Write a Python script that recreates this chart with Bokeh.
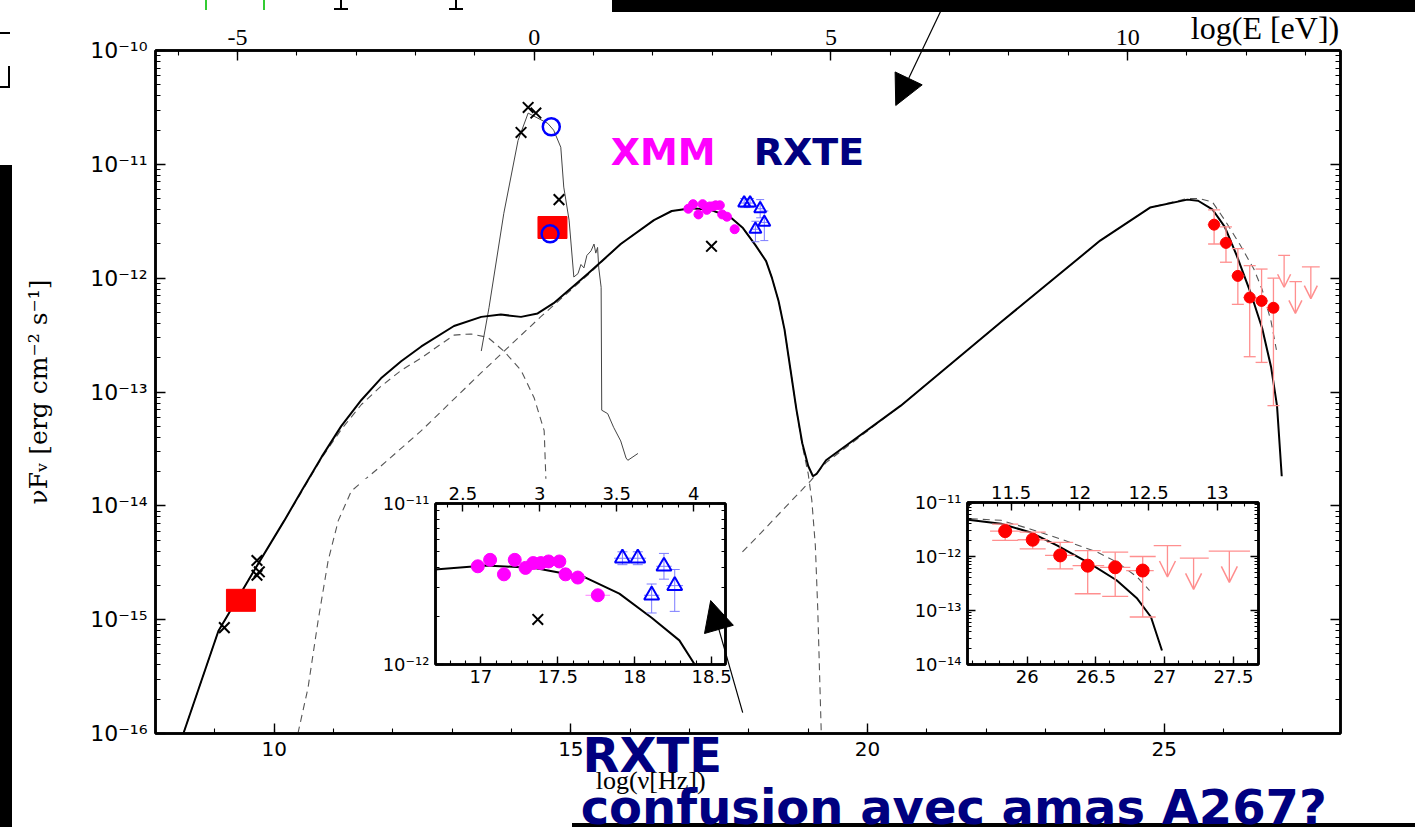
import math
from bokeh.plotting import figure
from bokeh.models import (Range1d, LinearAxis, LogAxis, FixedTicker, CustomJSTickFormatter,
                          Label, Arrow, NormalHead, OpenHead, ColumnDataSource, Div)
from bokeh.embed import file_html
from bokeh.resources import INLINE

# ---------------- data: log10 nu [Hz], log10 nuFnu [erg cm-2 s-1] ----------------
model_lognu = [8.47, 9.06, 9.66, 10.17, 10.46, 10.80, 11.13, 11.47, 11.80, 12.14, 12.48, 13.03, 13.49, 13.82, 14.16,
               14.44, 14.71, 15.29, 15.84, 16.40, 16.70, 17.03, 17.35, 17.68, 17.90, 18.11, 18.29, 18.39, 18.50,
               18.60, 18.70, 18.80, 18.90, 19.00, 19.08, 19.14, 19.30, 20.56, 22.24, 23.92, 24.76, 25.39, 25.57,
               25.81, 26.02, 26.22, 26.46, 26.65, 26.80, 26.90, 26.98]
model_logf = [-16.00, -15.10, -14.57, -14.13, -13.87, -13.57, -13.30, -13.07, -12.88, -12.73, -12.60, -12.42, -12.34,
              -12.32, -12.34, -12.31, -12.22, -11.96, -11.70, -11.49, -11.41, -11.385, -11.40, -11.46, -11.56, -11.71,
              -11.85, -12.00, -12.20, -12.45, -12.80, -13.15, -13.45, -13.65, -13.74, -13.72, -13.60, -13.12, -12.39,
              -11.67, -11.38, -11.31, -11.32, -11.395, -11.55, -11.80, -12.135, -12.44, -12.78, -13.12, -13.74]

sync1_lognu = [8.47, 9.06, 9.66, 10.17, 10.46, 10.80, 11.13, 11.47, 11.80, 12.14, 12.48, 13.03, 13.32, 13.60, 13.87,
               14.16, 14.38, 14.55, 14.58]
sync1_logf = [-16.00, -15.10, -14.57, -14.13, -13.88, -13.58, -13.33, -13.11, -12.95, -12.81, -12.70, -12.50, -12.49,
              -12.52, -12.64, -12.81, -13.05, -13.34, -13.78]

sync2_lognu = [10.40, 10.57, 10.74, 10.91, 11.08, 11.30, 11.80, 12.48, 13.49, 14.49, 15.29, 15.84, 16.40, 16.70, 17.03,
               17.35, 17.68, 17.90, 18.11, 18.29, 18.39, 18.50, 18.60, 18.70, 18.80, 18.90, 19.00, 19.06, 19.12, 19.16,
               19.19, 19.22]
sync2_logf = [-16.0, -15.60, -15.01, -14.48, -14.13, -13.87, -13.65, -13.34, -12.83, -12.34, -11.97, -11.70, -11.49, -11.41,
              -11.385, -11.40, -11.46, -11.56, -11.71, -11.85, -12.00, -12.20, -12.45, -12.80, -13.15, -13.47, -13.72,
              -13.95, -14.35, -14.90, -15.45, -16.0]

ssc_lognu = [17.75, 18.20, 18.60, 19.04, 19.30, 20.56, 22.24, 23.92, 24.76, 25.39, 25.59, 25.81, 26.02, 26.27, 26.51,
             26.65, 26.80, 26.89]
ssc_logf = [-14.48, -14.24, -14.02, -13.78, -13.62, -13.12, -12.39, -11.67, -11.38, -11.30, -11.30, -11.33, -11.49,
            -11.70, -11.92, -12.10, -12.38, -12.63]

spec_lognu = [13.49, 13.62, 13.87, 14.11, 14.28, 14.61, 14.71, 14.83, 14.88, 14.97, 15.05, 15.12, 15.17, 15.22, 15.27,
              15.34, 15.39, 15.42, 15.45, 15.47, 15.51, 15.52, 15.62, 15.72, 15.84, 15.93, 15.96, 16.13]
spec_logf = [-12.64, -12.26, -11.43, -10.79, -10.55, -10.64, -10.70, -10.85, -11.20, -11.49, -11.99, -11.96, -11.88,
             -11.91, -11.80, -11.76, -11.70, -11.78, -11.73, -11.91, -12.08, -13.16, -13.19, -13.31, -13.43, -13.58,
             -13.60, -13.54]

cross_lognu = [9.16, 9.71, 9.71, 9.75, 14.16, 14.28, 14.41, 14.80, 17.37]
cross_logf = [-15.07, -14.48, -14.61, -14.58, -10.72, -10.50, -10.55, -11.31, -11.72]

bluecirc_lognu = [14.67, 14.65]
bluecirc_logf = [-10.67, -11.61]

redsq_lognu = [9.44, 14.69]
redsq_logf = [-14.83, -11.555]

xmm_lognu = [16.98, 17.06, 17.15, 17.22, 17.29, 17.34, 17.39, 17.44, 17.51, 17.55, 17.63, 17.76]
xmm_logf = [-11.39, -11.35, -11.44, -11.35, -11.40, -11.37, -11.37, -11.36, -11.36, -11.44, -11.46, -11.57]
xmm_xerr = [0.04, 0.04, 0.04, 0.04, 0.04, 0.04, 0.04, 0.04, 0.04, 0.04, 0.05, 0.08]
xmm_yerr = [0.02, 0.02, 0.02, 0.02, 0.02, 0.02, 0.02, 0.02, 0.02, 0.02, 0.02, 0.03]

rxte_lognu = [17.92, 18.02, 18.19, 18.11, 18.26]
rxte_logf = [-11.34, -11.34, -11.39, -11.57, -11.51]
rxte_xerr = [0.054, 0.054, 0.05, 0.05, 0.054]
rxte_yerr_up = [0.04, 0.04, 0.08, 0.07, 0.10]
rxte_yerr_lo = [0.04, 0.04, 0.08, 0.11, 0.16]

gam_lognu = [25.84, 26.04, 26.24, 26.44, 26.64, 26.84]
gam_logf = [-11.53, -11.69, -11.98, -12.17, -12.20, -12.26]
gam_xlo = [25.73, 25.93, 26.13, 26.33, 26.53, 26.72]
gam_xhi = [25.95, 26.15, 26.35, 26.56, 26.75, 26.92]
gam_ylo = [-11.70, -11.86, -12.23, -12.69, -12.74, -13.12]
gam_yhi = [-11.40, -11.55, -11.74, -11.89, -11.92, -12.00]

ul_lognu = [27.02, 27.21, 27.47]
ul_xlo = [26.92, 27.11, 27.32]
ul_xhi = [27.12, 27.32, 27.62]
ul_logf = [-11.80, -12.03, -11.90]

inset2_ssc_lognu = [25.59, 25.81, 26.02, 26.27, 26.51, 26.65, 26.80, 26.89]
inset2_ssc_logf = [-11.30, -11.33, -11.49, -11.70, -11.92, -12.10, -12.38, -12.63]

# axis ticks / labels
main_x_ticks = [10, 15, 20, 25]
main_x_minor = list(range(8, 28))
main_e_ticks = [-5, 0, 5, 10]
main_e_minor = list(range(-6, 14))
main_y_dec = [-16, -15, -14, -13, -12, -11, -10]
in1_x_ticks = [17, 17.5, 18, 18.5]
in1_e_ticks = [2.5, 3, 3.5, 4]
in1_y_dec = [-12, -11]
in2_x_ticks = [26, 26.5, 27, 27.5]
in2_e_ticks = [11.5, 12, 12.5, 13]
in2_y_dec = [-14, -13, -12, -11]

LOG_H = 14.383  # log10(nu/Hz) - log10(E/eV)

# ---------------- layout (page pixels) ----------------
W, H = 1415, 827
FL, FT, FR, FB = 155, 50, 1340, 733      # main frame edges
XR = (8.0, 27.97)
YD = (-16.0, -10.0)
PPX = (FR - FL) / (XR[1] - XR[0])
PPY = (FB - FT) / (YD[1] - YD[0])


def P(a):
    return [10.0 ** v for v in a]


def minors_lin(lo, hi, step):
    n = int(round((hi - lo) / step))
    return [round(lo + i * step, 3) for i in range(n + 1)]


def log_minor(decs):
    out = []
    for e in decs[:-1]:
        out += [m * 10.0 ** e for m in range(2, 10)]
    return out


SUP = CustomJSTickFormatter(code="""
const s = {"-":"\u207b","0":"\u2070","1":"\u00b9","2":"\u00b2","3":"\u00b3","4":"\u2074","5":"\u2075","6":"\u2076","7":"\u2077","8":"\u2078","9":"\u2079"};
const e = Math.round(Math.log10(tick));
return "10" + String(e).split("").map(c => s[c]).join("");
""")
BLANK = CustomJSTickFormatter(code="return '';")
NUM = CustomJSTickFormatter(code="return (Math.abs(tick - Math.round(tick)) < 1e-6) ? String(Math.round(tick)) : tick.toFixed(1);")


def style_axis(ax, font, size, standoff, maj=10, mnr=5, lw=2.0):
    ax.major_tick_in = maj
    ax.major_tick_out = 0
    ax.minor_tick_in = mnr
    ax.minor_tick_out = 0
    ax.axis_line_width = lw
    ax.axis_line_color = "black"
    ax.major_tick_line_width = 1.4
    ax.minor_tick_line_width = 1.1
    ax.major_tick_line_color = "black"
    ax.minor_tick_line_color = "black"
    ax.major_label_text_font = font
    ax.major_label_text_font_size = f"{size}px"
    ax.major_label_standoff = standoff
    ax.major_label_text_color = "black"


def absolute(left, top):
    return {"position": "absolute", "left": f"{left}px", "top": f"{top}px"}


PINK = "#ff8f8f"
MAG = "#ff00ff"
MAGE = "#ff80ff"
BLUE = "#0000ff"
BLUEE = "#7c7cff"
NAVY = "#000080"

# ---------------- main figure ----------------
p = figure(width=W, height=H, x_range=Range1d(*XR), y_range=Range1d(10 ** YD[0], 10 ** YD[1]),
           y_axis_type="log", output_backend="svg", toolbar_location=None,
           min_border_left=FL, min_border_right=W - FR, min_border_top=FT, min_border_bottom=H - FB,
           styles=absolute(0, 0))
p.grid.visible = False
p.outline_line_color = "black"
p.outline_line_width = 2.5

xb = p.xaxis[0]
xb.ticker = FixedTicker(ticks=main_x_ticks, minor_ticks=main_x_minor)
xb.formatter = NUM
style_axis(xb, "DejaVu Sans", 20, 8, lw=2.5)

yl = p.yaxis[0]
yl.ticker = FixedTicker(ticks=P(main_y_dec), minor_ticks=log_minor(main_y_dec))
yl.formatter = SUP
style_axis(yl, "DejaVu Sans", 22, 8, lw=2.5)
yl.axis_label = "\u03bdF\u1d65 [erg cm\u207b\u00b2 s\u207b\u00b9]"
yl.axis_label_text_font = "DejaVu Serif"
yl.axis_label_text_font_size = "25px"
yl.axis_label_text_font_style = "normal"
yl.axis_label_text_color = "black"
yl.axis_label_standoff = 34

p.extra_x_ranges = {"E": Range1d(XR[0] - LOG_H, XR[1] - LOG_H)}
xt = LinearAxis(x_range_name="E", ticker=FixedTicker(ticks=main_e_ticks, minor_ticks=main_e_minor), formatter=NUM)
style_axis(xt, "Liberation Serif", 24, 6, lw=2.5)
p.add_layout(xt, "above")

yr = LogAxis(ticker=FixedTicker(ticks=P(main_y_dec), minor_ticks=log_minor(main_y_dec)), formatter=BLANK)
style_axis(yr, "DejaVu Sans", 1, 0, lw=2.5)
p.add_layout(yr, "right")

# model curves
DASH = dict(line_color="#555555", line_width=1.1, line_dash="7 5")
p.line(sync1_lognu, P(sync1_logf), **DASH)
p.line(sync2_lognu, P(sync2_logf), **DASH)
p.line(ssc_lognu, P(ssc_logf), **DASH)
p.line(spec_lognu, P(spec_logf), line_color="#444444", line_width=1.0)
p.line(model_lognu, P(model_logf), line_color="black", line_width=2.0)


def draw_data(f, s):
    # XMM
    f.segment([a - e for a, e in zip(xmm_lognu, xmm_xerr)], P(xmm_logf),
              [a + e for a, e in zip(xmm_lognu, xmm_xerr)], P(xmm_logf), line_color=MAGE, line_width=1)
    f.segment(xmm_lognu, P([a - e for a, e in zip(xmm_logf, xmm_yerr)]),
              xmm_lognu, P([a + e for a, e in zip(xmm_logf, xmm_yerr)]), line_color=MAGE, line_width=1)
    f.scatter(xmm_lognu, P(xmm_logf), marker="circle", size=s["xmm"], fill_color=MAG, line_color=MAG)
    # RXTE
    f.segment([a - e for a, e in zip(rxte_lognu, rxte_xerr)], P(rxte_logf),
              [a + e for a, e in zip(rxte_lognu, rxte_xerr)], P(rxte_logf), line_color=BLUEE, line_width=1)
    f.segment(rxte_lognu, P([a - e for a, e in zip(rxte_logf, rxte_yerr_lo)]),
              rxte_lognu, P([a + e for a, e in zip(rxte_logf, rxte_yerr_up)]), line_color=BLUEE, line_width=1)
    f.scatter(rxte_lognu, P([a - e for a, e in zip(rxte_logf, rxte_yerr_lo)]), marker="dash", size=s["cap"], line_color=BLUEE)
    f.scatter(rxte_lognu, P([a + e for a, e in zip(rxte_logf, rxte_yerr_up)]), marker="dash", size=s["cap"], line_color=BLUEE)
    f.scatter(rxte_lognu, P(rxte_logf), marker="triangle", size=s["tri"], fill_color=None, line_color=BLUE, line_width=2)
    # gamma
    f.segment(gam_xlo, P(gam_logf), gam_xhi, P(gam_logf), line_color=PINK, line_width=1.3)
    f.segment(gam_lognu, P(gam_ylo), gam_lognu, P(gam_yhi), line_color=PINK, line_width=1.3)
    f.scatter(gam_lognu, P(gam_ylo), marker="dash", size=s["gcap"], line_color=PINK, line_width=1.3)
    f.scatter(gam_lognu, P(gam_yhi), marker="dash", size=s["gcap"], line_color=PINK, line_width=1.3)
    f.scatter(gam_lognu, P(gam_logf), marker="circle", size=s["gam"], fill_color="#ff0000", line_color="#ff0000")
    # upper limits
    f.segment(ul_xlo, P(ul_logf), ul_xhi, P(ul_logf), line_color=PINK, line_width=1.3)
    src = ColumnDataSource(dict(x0=ul_lognu, y0=P(ul_logf), x1=ul_lognu,
                                y1=[10.0 ** (v - s["ul"]) for v in ul_logf]))
    f.add_layout(Arrow(end=OpenHead(size=s["ulhead"], line_color=PINK, line_width=1.5),
                       x_start="x0", y_start="y0", x_end="x1", y_end="y1", source=src,
                       line_color=PINK, line_width=1.3))


draw_data(p, {"xmm": 9, "cap": 8, "tri": 12, "gcap": 12, "gam": 11, "ul": 0.28, "ulhead": 13})

p.rect(redsq_lognu, P(redsq_logf), width=29, height=22, width_units="screen", height_units="screen",
       fill_color="#ff0000", line_color="#ff0000")
p.scatter(bluecirc_lognu, P(bluecirc_logf), marker="circle", size=17, fill_color=None, line_color=BLUE, line_width=2.5)
p.scatter(cross_lognu, P(cross_logf), marker="x", size=15, line_color="black", line_width=2)


# ---------------- insets ----------------
def make_inset(xr, ydec, left, top, fw, fh, bl=75, bt=25, br=15, bb=30, xt=None, et=None):
    f = figure(width=bl + fw + br, height=bt + fh + bb, x_range=Range1d(*xr),
               y_range=Range1d(10.0 ** ydec[0], 10.0 ** ydec[-1]), y_axis_type="log",
               output_backend="svg", toolbar_location=None,
               min_border_left=bl, min_border_right=br, min_border_top=bt, min_border_bottom=bb,
               styles=absolute(left, top))
    f.grid.visible = False
    f.outline_line_color = "black"
    f.outline_line_width = 2.5
    ax = f.xaxis[0]
    ax.ticker = FixedTicker(ticks=xt, minor_ticks=minors_lin(math.floor(xr[0]), math.ceil(xr[1]), 0.1))
    ax.formatter = NUM
    style_axis(ax, "DejaVu Sans", 18, 5, maj=8, mnr=4, lw=2.5)
    ay = f.yaxis[0]
    ay.ticker = FixedTicker(ticks=P(ydec), minor_ticks=log_minor(ydec))
    ay.formatter = SUP
    style_axis(ay, "DejaVu Sans", 18, 6, maj=8, mnr=4, lw=2.5)
    f.extra_x_ranges = {"E": Range1d(xr[0] - LOG_H, xr[1] - LOG_H)}
    at = LinearAxis(x_range_name="E", formatter=NUM,
                    ticker=FixedTicker(ticks=et, minor_ticks=minors_lin(math.floor(xr[0] - LOG_H),
                                                                          math.ceil(xr[1] - LOG_H), 0.1)))
    style_axis(at, "DejaVu Sans", 18, 4, maj=8, mnr=4, lw=2.5)
    f.add_layout(at, "above")
    ar = LogAxis(ticker=FixedTicker(ticks=P(ydec), minor_ticks=log_minor(ydec)), formatter=BLANK)
    style_axis(ar, "DejaVu Sans", 1, 0, maj=8, mnr=4, lw=2.5)
    f.add_layout(ar, "right")
    return f


in1 = make_inset((16.705, 18.59), in1_y_dec, 360, 478, 290, 161, xt=in1_x_ticks, et=in1_e_ticks)
in1.line(model_lognu, P(model_logf), line_color="black", line_width=2.0)
draw_data(in1, {"xmm": 13, "cap": 10, "tri": 15, "gcap": 20, "gam": 13, "ul": 0.58, "ulhead": 16})
in1.scatter(cross_lognu, P(cross_logf), marker="x", size=15, line_color="black", line_width=2)

in2 = make_inset((25.566, 27.682), in2_y_dec, 892, 477, 291, 162, br=14, xt=in2_x_ticks, et=in2_e_ticks)
in2.line(inset2_ssc_lognu, P(inset2_ssc_logf), **DASH)
in2.line(model_lognu, P(model_logf), line_color="black", line_width=2.0)
draw_data(in2, {"xmm": 13, "cap": 10, "tri": 15, "gcap": 26, "gam": 13, "ul": 0.58, "ulhead": 16})


# ---------------- slide decorations ----------------
def box(l, t, w, h, c="black"):
    return Div(text="", width=w, height=h,
               styles={"position": "absolute", "left": f"{l}px", "top": f"{t}px",
                       "background-color": c, "margin": "0px", "padding": "0px"})


decor = [box(612, 0, 803, 12), box(0, 165, 12, 662), box(572, 823, 843, 4),
         box(205, 0, 2, 10, "#33cc33"), box(263, 0, 2, 10, "#33cc33"),
         box(340, 0, 2, 9), box(334, 8, 14, 2), box(455, 0, 2, 9), box(449, 8, 14, 2),
         box(0, 32, 10, 2), box(8, 66, 2, 22), box(0, 86, 10, 2)]

# ---------------- transparent overlay (same data scales, whole page) ----------------
ov = figure(width=W, height=H, output_backend="svg", toolbar_location=None,
            x_range=Range1d(XR[0] - FL / PPX, XR[1] + (W - FR) / PPX),
            y_range=Range1d(10 ** (YD[0] - (H - FB) / PPY), 10 ** (YD[1] + FT / PPY)),
            y_axis_type="log", x_axis_location=None, y_axis_location=None, min_border=0,
            styles=absolute(0, 0))
ov.grid.visible = False
ov.outline_line_color = None
ov.background_fill_alpha = 0
ov.border_fill_alpha = 0


def lab(x, logy, text, size, color="black", font="DejaVu Sans", style="bold", align="left"):
    ov.add_layout(Label(x=x, y=10 ** logy, text=text, text_font=font, text_font_style=style,
                        text_font_size=f"{size}px", text_color=color, text_align=align,
                        text_baseline="alphabetic"))


lab(15.670, -10.896, "XMM", 38, MAG)
lab(18.081, -10.896, "RXTE", 38, NAVY)
lab(16.345, -16.413, "log(\u03bd[Hz])", 26, font="Liberation Serif", style="normal", align="center")
lab(25.448, -9.798, "log(E [eV])", 32, font="Liberation Serif", style="normal")
lab(15.198, -16.193, "RXTE", 48, NAVY)
lab(15.165, -16.650, "confusion avec amas  A267?", 48, NAVY)

HEAD = dict(size=30, fill_color="black", line_color="black")
ov.add_layout(Arrow(x_start=21.318, y_start=10 ** -9.561, x_end=20.475, y_end=10 ** -10.483,
                    end=NormalHead(**HEAD), line_width=1.2))
ov.add_layout(Arrow(x_start=17.896, y_start=10 ** -15.816, x_end=17.356, y_end=10 ** -14.832,
                    end=NormalHead(**HEAD), line_width=1.2))

html = file_html([p, in1, in2] + decor + [ov], INLINE, title="SED")
with open("out.html", "w") as fh:
    fh.write(html)
